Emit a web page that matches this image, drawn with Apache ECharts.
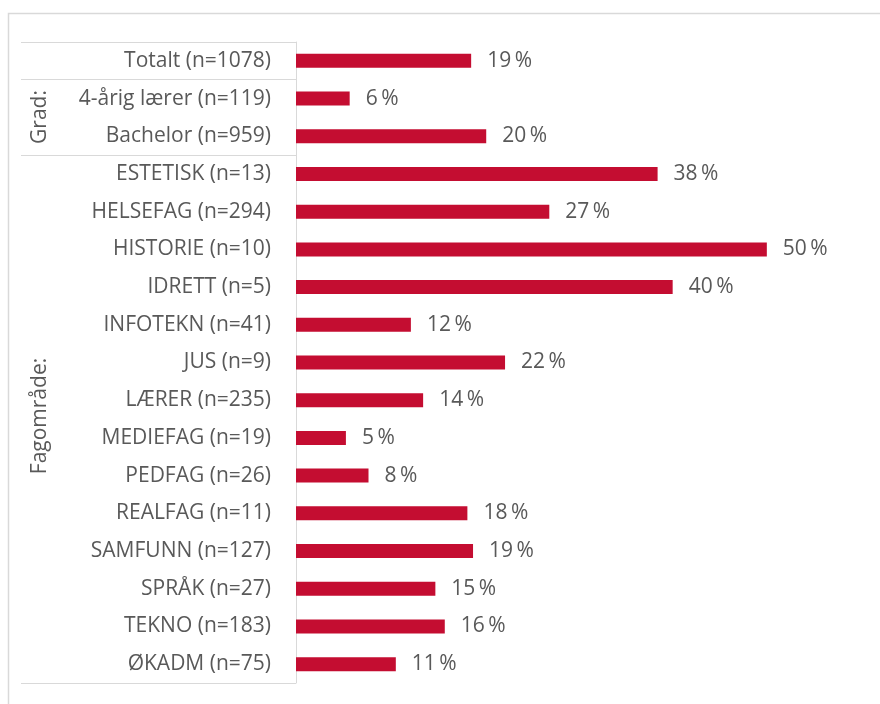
<!DOCTYPE html>
<html>
<head>
<meta charset="utf-8">
<script src="https://cdn.jsdelivr.net/npm/echarts@6/dist/echarts.min.js"></script>
<style>
  html, body { margin: 0; padding: 0; background: #fff; }
  #chart { width: 880px; height: 704px; }
</style>
</head>
<body>
<div id="chart"></div>
<script>
// kategorier (ovenfra og ned)
const categories = [
  "Totalt (n=1078)", "4-årig lærer (n=119)", "Bachelor (n=959)",
  "ESTETISK (n=13)", "HELSEFAG (n=294)", "HISTORIE (n=10)", "IDRETT (n=5)",
  "INFOTEKN (n=41)", "JUS (n=9)", "LÆRER (n=235)", "MEDIEFAG (n=19)",
  "PEDFAG (n=26)", "REALFAG (n=11)", "SAMFUNN (n=127)", "SPRÅK (n=27)",
  "TEKNO (n=183)", "ØKADM (n=75)"
];
// andel i prosent
const values = [18.6, 5.7, 20.2, 38.4, 26.9, 50, 40, 12.2, 22.2, 13.5, 5.3, 7.7, 18.2, 18.8, 14.8, 15.8, 10.6];
// grupper: navn og første indeks
const groupNames = ["Grad:", "Fagområde:"];
const groupBreaks = [0, 1, 3];

const textColor = "#595959";
const lineColor = "#d9d9d9";
const font = "'Open Sans', 'Noto Sans', sans-serif";

let myChart = echarts.init(document.getElementById("chart"));
myChart.setOption({
  animation: false,
  grid: { left: 296, right: 19, top: 42, bottom: 21 },
  xAxis: {
    type: "value",
    min: 0,
    max: 60,
    show: false
  },
  yAxis: {
    type: "category",
    inverse: true,
    data: categories,
    axisLine: { show: true, lineStyle: { color: lineColor } },
    axisTick: {
      show: true,
      length: 275,
      lineStyle: { color: lineColor },
      // linjer mellom gruppene
      interval: function (idx) { return groupBreaks.indexOf(idx) >= 0; }
    },
    axisLabel: {
      margin: 25,
      color: textColor,
      fontSize: 21,
      fontFamily: font,
      interval: 0,
      padding: [4, 0, 0, 0]
    }
  },
  series: [{
    type: "bar",
    data: values,
    barWidth: 14,
    itemStyle: { color: "#c40d31" },
    label: {
      show: true,
      position: "right",
      distance: 16,
      color: textColor,
      fontSize: 21,
      fontFamily: font,
      padding: [4, 0, 0, 0],
      formatter: function (p) { return Math.round(p.value) + "\u2009%"; }
    }
  }],
  graphic: [
    {
      type: "rect",
      silent: true,
      shape: { x: 8.5, y: 13.5, width: 1000, height: 1000 },
      style: { fill: "none", stroke: lineColor, lineWidth: 1.5 }
    },
    {
      type: "text",
      x: 40, y: 117, rotation: Math.PI / 2,
      style: { text: groupNames[0], fill: textColor, font: "21px " + font, align: "center", verticalAlign: "middle" }
    },
    {
      type: "text",
      x: 40, y: 416, rotation: Math.PI / 2,
      style: { text: groupNames[1], fill: textColor, font: "21px " + font, align: "center", verticalAlign: "middle" }
    }
  ]
});
</script>
</body>
</html>
